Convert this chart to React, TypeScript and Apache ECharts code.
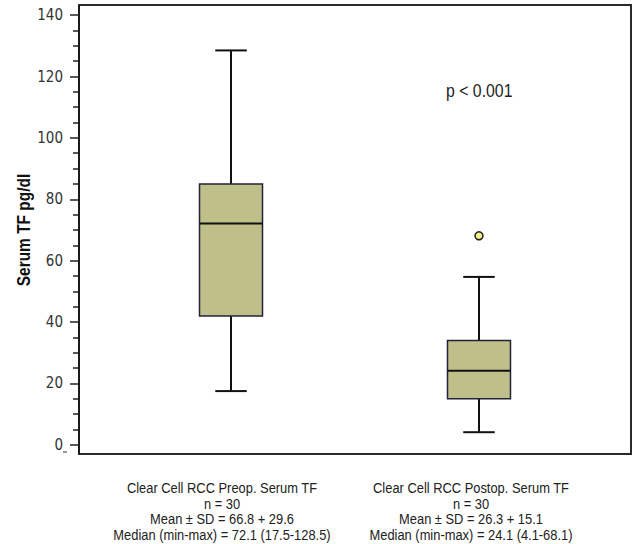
import React, { useEffect, useRef } from "react";
import * as echarts from "echarts";

const categories = ["Clear Cell RCC Preop. Serum TF", "Clear Cell RCC Postop. Serum TF"];
const nValues = [30, 30];
const meanSd = ["66.8 + 29.6", "26.3 + 15.1"];
const medianRange = ["72.1 (17.5-128.5)", "24.1 (4.1-68.1)"];
const mins = [17.5, 4.1];
const q1s = [42, 15];
const medians = [72.1, 24.1];
const q3s = [85, 34];
const maxs = [128.5, 54.7];
const outliers: [number, number][] = [[1, 68.1]];
const majorTicks = [0, 20, 40, 60, 80, 100, 120, 140];
const minorTicks = [5, 10, 15, 25, 30, 35, 45, 50, 55, 65, 70, 75, 85, 90, 95, 105, 110, 115, 125, 130, 135];
const yTitle = "Serum TF pg/dl";
const pText = "p < 0.001";

const FONT = "'Liberation Sans', Arial, sans-serif";
const TICKFONT = "'DejaVu Sans Condensed', 'Liberation Sans', sans-serif";

const GRID = { left: 79, top: 5, width: 552, height: 449 };

export default function App() {
  const ref = useRef<HTMLDivElement>(null);
  useEffect(() => {
    document.body.style.margin = "0";
    const chart = echarts.init(ref.current!, null, { renderer: "svg" });
    const boxData = categories.map((_, i) => [i, mins[i], q1s[i], medians[i], q3s[i], maxs[i]]);
    const labelCenters = [222, 471];
    chart.setOption({
      animation: false,
      textStyle: { fontFamily: FONT },
      grid: {
        ...GRID,
        show: false,
      },
      xAxis: {
        type: "value",
        min: -0.613,
        max: 1.613,
        show: false,
      },
      yAxis: [
        {
          type: "value",
          min: -3,
          max: 143.3,
          position: "left",
          axisLine: { show: true, onZero: false, lineStyle: { color: "#111", width: 2 } },
          axisTick: { show: true, length: 9, customValues: majorTicks, lineStyle: { color: "#222", width: 1.5 } },
          axisLabel: { customValues: majorTicks, fontFamily: TICKFONT, fontSize: 15, color: "#333", margin: 16 },
          splitLine: { show: false },
        },
        {
          type: "value",
          min: -3,
          max: 143.3,
          position: "left",
          axisLine: { show: false, onZero: false },
          axisTick: { show: true, length: 6, customValues: minorTicks, lineStyle: { color: "#222", width: 1.5 } },
          axisLabel: { show: false },
          splitLine: { show: false },
        },
      ],
      series: [
        {
          type: "custom",
          data: boxData,
          encode: { x: 0, y: [1, 2, 3, 4, 5] },
          renderItem: (params: any, api: any) => {
            const x = api.value(0);
            const pMin = api.coord([x, api.value(1)]);
            const pQ1 = api.coord([x, api.value(2)]);
            const pMed = api.coord([x, api.value(3)]);
            const pQ3 = api.coord([x, api.value(4)]);
            const pMax = api.coord([x, api.value(5)]);
            const c = pMed[0];
            const bw = api.size([1, 0])[0] * 0.254;
            const cap = bw / 2;
            const lineStyle = { stroke: "#111", lineWidth: 2 };
            return {
              type: "group",
              children: [
                { type: "line", shape: { x1: c, y1: pMax[1], x2: c, y2: pQ3[1] }, style: lineStyle },
                { type: "line", shape: { x1: c, y1: pQ1[1], x2: c, y2: pMin[1] }, style: lineStyle },
                { type: "line", shape: { x1: c - cap / 2, y1: pMax[1], x2: c + cap / 2, y2: pMax[1] }, style: lineStyle },
                { type: "line", shape: { x1: c - cap / 2, y1: pMin[1], x2: c + cap / 2, y2: pMin[1] }, style: lineStyle },
                {
                  type: "rect",
                  shape: { x: c - bw / 2, y: pQ3[1], width: bw, height: pQ1[1] - pQ3[1] },
                  style: { fill: "#bfbf8a", stroke: "#22223a", lineWidth: 1.5 },
                },
                { type: "line", shape: { x1: c - bw / 2, y1: pMed[1], x2: c + bw / 2, y2: pMed[1] }, style: lineStyle },
              ],
            };
          },
        },
        {
          type: "scatter",
          data: outliers,
          symbol: "circle",
          symbolSize: 8,
          itemStyle: { color: "#f2f28c", borderColor: "#222", borderWidth: 1.5, opacity: 1 },
        },
      ],
      graphic: [
        {
          type: "polyline",
          shape: {
            points: [
              [GRID.left, GRID.top],
              [GRID.left + GRID.width, GRID.top],
              [GRID.left + GRID.width, GRID.top + GRID.height],
              [GRID.left, GRID.top + GRID.height],
              [GRID.left, GRID.top],
            ],
          },
          style: { fill: null, stroke: "#2a2a2a", lineWidth: 2 },
          silent: true,
          z: 100,
        },
        {
          type: "line",
          shape: { x1: GRID.left, y1: GRID.top, x2: GRID.left, y2: GRID.top + GRID.height },
          style: { stroke: "#1a1a1a", lineWidth: 2 },
          silent: true,
          z: 101,
        },
        {
          type: "text",
          x: 24,
          y: 230,
          rotation: Math.PI / 2,
          scaleX: 0.86,
          style: {
            text: yTitle,
            fontFamily: FONT,
            fontSize: 18,
            fontWeight: "bold",
            align: "center",
            verticalAlign: "middle",
            fill: "#111",
          },
        },
        {
          type: "text",
          x: 446,
          y: 91,
          scaleX: 0.88,
          style: { text: pText, fontFamily: FONT, fontSize: 18, fill: "#222", align: "left", verticalAlign: "middle" },
        },
        {
          type: "line",
          shape: { x1: 63, y1: 452, x2: 67, y2: 452 },
          style: { stroke: "#333", lineWidth: 1 },
        },
        ...categories.map((cat, i) => ({
          type: "text",
          x: labelCenters[i],
          y: 480,
          scaleX: 0.86,
          style: {
            text: [cat, "n = " + nValues[i], "Mean \u00B1 SD = " + meanSd[i], "Median (min-max) = " + medianRange[i]].join("\n"),
            fontFamily: FONT,
            fontSize: 15,
            lineHeight: 15.5,
            align: "center",
            verticalAlign: "top",
            fill: "#222",
          },
        })),
      ],
    });
    return () => chart.dispose();
  }, []);
  return <div ref={ref} style={{ width: 632, height: 544 }} />;
}
